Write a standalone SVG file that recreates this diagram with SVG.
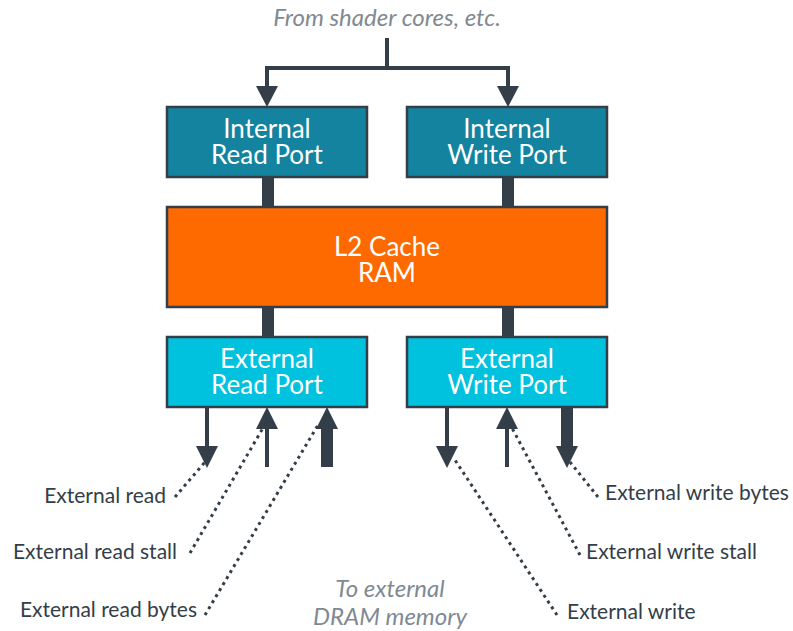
<svg xmlns="http://www.w3.org/2000/svg" width="793" height="631" viewBox="0 0 793 631">
<defs>
<style>
.box{stroke:#333e48;stroke-width:2.5}
.int{fill:#13839f}
.l2{fill:#ff6a00}
.ext{fill:#00c1de}
.bt{font-family:Lato,"Open Sans",sans-serif;font-size:26px;fill:#ffffff;text-anchor:middle}
.lbl{font-family:Lato,"Open Sans",sans-serif;font-size:21px;fill:#333e48}
.note{font-family:Lato,"Open Sans",sans-serif;font-style:italic;font-size:24px;fill:#7f8a93;text-anchor:middle}
.ln{stroke:#333e48;stroke-width:4;fill:none}
.thick{stroke:#333e48;stroke-width:12;fill:none}
.dot{stroke:#333e48;stroke-width:3;fill:none;stroke-dasharray:3 4}
.head{fill:#333e48}
</style>
</defs>
<text class="note" x="387" y="26">From shader cores, etc.</text>
<text class="note" x="390" y="597">To external</text>
<text class="note" x="390" y="625">DRAM memory</text>
<g id="connectors">
<path class="ln" d="M387 38V68M267 66V88M508 66V88M265 68H510"/>
<path class="head" d="M256 86H278L267 107ZM497 86H519L508 107Z"/>
<path class="thick" d="M268 177V207M508 177V207M268 307V337M508 307V337"/>
<path class="ln" d="M207 407V448"/>
<path class="head" d="M196 446H218L207 468Z"/>
<path class="ln" d="M267 427V467"/>
<path class="head" d="M256 429H278L267 407Z"/>
<path class="thick" d="M327 427V467"/>
<path class="head" d="M316 429H338L327 407Z"/>
<path class="ln" d="M447 407V448"/>
<path class="head" d="M436 446H458L447 468Z"/>
<path class="ln" d="M507 427V467"/>
<path class="head" d="M496 429H518L507 407Z"/>
<path class="thick" d="M567 407V448"/>
<path class="head" d="M556 446H578L567 468Z"/>
<path class="dot" d="M175 497L205 462"/>
<path class="dot" d="M190 553L263 428"/>
<path class="dot" d="M205 615L318 425"/>
<path class="dot" d="M598 497L570 462"/>
<path class="dot" d="M580 555L512 428"/>
<path class="dot" d="M557 615L455 460"/>
</g>
<g id="internal-read-port">
<rect class="box int" x="167" y="107" width="200" height="70"/>
<text class="bt" x="267" y="138">Internal</text>
<text class="bt" x="267" y="164">Read Port</text>
</g>
<g id="internal-write-port">
<rect class="box int" x="407" y="107" width="200" height="70"/>
<text class="bt" x="507" y="138">Internal</text>
<text class="bt" x="507" y="164">Write Port</text>
</g>
<g id="l2-cache-ram">
<rect class="box l2" x="167" y="207" width="440" height="100"/>
<text class="bt" x="387" y="256">L2 Cache</text>
<text class="bt" x="387" y="282">RAM</text>
</g>
<g id="external-read-port">
<rect class="box ext" x="167" y="337" width="200" height="70"/>
<text class="bt" x="267" y="368">External</text>
<text class="bt" x="267" y="394">Read Port</text>
</g>
<g id="external-write-port">
<rect class="box ext" x="407" y="337" width="200" height="70"/>
<text class="bt" x="507" y="368">External</text>
<text class="bt" x="507" y="394">Write Port</text>
</g>
<g id="labels">
<text class="lbl" x="166" y="503" text-anchor="end">External read</text>
<text class="lbl" x="177" y="559" text-anchor="end">External read stall</text>
<text class="lbl" x="197" y="617" text-anchor="end">External read bytes</text>
<text class="lbl" x="605" y="500">External write bytes</text>
<text class="lbl" x="586" y="559">External write stall</text>
<text class="lbl" x="567" y="619">External write</text>
</g>
</svg>
